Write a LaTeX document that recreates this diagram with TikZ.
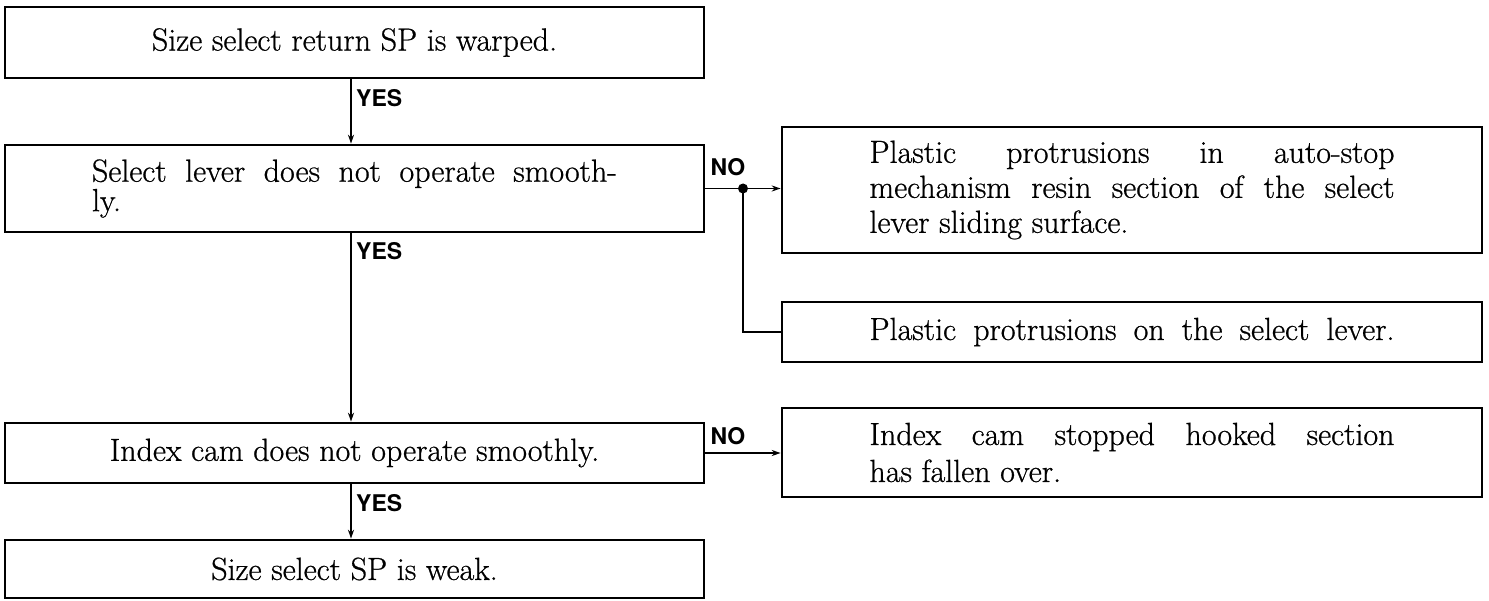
\documentclass[tikz,border=0pt]{standalone}
\usepackage{fontspec}
\newfontfamily\labelfont{TeX Gyre Heros}
\newfontfamily\bodyfont{Latin Modern Roman}[FakeBold=0.7]
\usetikzlibrary{arrows.meta,calc}
\newcommand\jline[1]{\makebox[525bp][s]{#1}}
\begin{document}
\begin{tikzpicture}[x=1bp,y=-1bp,
  box/.style={draw, line width=2.6bp, inner sep=0pt, align=center,
    font={\bodyfont\fontsize{32bp}{36bp}\selectfont}},
  lbox/.style={box, minimum width=699bp},
  rbox/.style={box, minimum width=700bp},
  conn/.style={line width=1.5bp},
  arr/.style={conn, -{Stealth[length=9bp,width=6bp]}},
  lab/.style={font={\labelfont\bfseries\fontsize{23bp}{23bp}\selectfont}, inner sep=0pt}
]
\useasboundingbox (0,0) rectangle (1489,601);
% left column
\node[lbox, minimum height=71bp] (b1) at (354.5,42.5) {Size select return SP is warped.};
\node[lbox, minimum height=87bp] (b2) at (354.5,188.5)
  {\parbox{525bp}{\fontsize{32bp}{28bp}\selectfont\jline{Select lever does not operate smooth-}\\ ly.}};
\node[lbox, minimum height=60bp] (b3) at (354.5,453) {Index cam does not operate smoothly.};
\node[lbox, minimum height=58bp] (b4) at (354.5,569) {Size select SP is weak.};
% right column
\node[rbox, minimum height=126bp] (b5) at (1132,190)
  {\parbox{525bp}{\fontsize{32bp}{35bp}\selectfont\jline{Plastic protrusions in auto-stop}\\
   \jline{mechanism resin section of the select}\\ lever sliding surface.}};
\node[rbox, minimum height=60bp] (b6) at (1132,332)
  {\parbox{525bp}{\jline{Plastic protrusions on the select lever.}}};
\node[rbox, minimum height=89bp] (b7) at (1132,452.5)
  {\parbox{525bp}{\fontsize{32bp}{37bp}\selectfont\jline{Index cam stopped hooked section}\\ has fallen over.}};
% vertical YES connectors
\coordinate (ax) at (351,0);
\draw[arr] (b1.south -| ax) -- (b2.north -| ax);
\draw[arr] (b2.south -| ax) -- (b3.north -| ax);
\draw[arr] (b3.south -| ax) -- (b4.north -| ax);
\node[lab, anchor=west] (y1) at ($(b1.south -| ax)+(5,19)$) {YES};
\node[lab, anchor=west] (y2) at ($(b2.south -| ax)+(5,18)$) {YES};
\node[lab, anchor=west] (y3) at ($(b3.south -| ax)+(5,19)$) {YES};
% NO branches
\coordinate (dot) at (743,188.5);
\draw[arr] (b2.east) -- (b2.east -| b5.west);
\fill (dot) circle (5bp);
\draw[conn] (dot) |- (b6.west);
\node[lab, anchor=south west] (n1) at ($(b2.east)+(5,-13)$) {NO};
\draw[arr] (b3.east) -- (b3.east -| b7.west);
\node[lab, anchor=south west] (n2) at ($(b3.east)+(5,-8)$) {NO};
\end{tikzpicture}
\end{document}
